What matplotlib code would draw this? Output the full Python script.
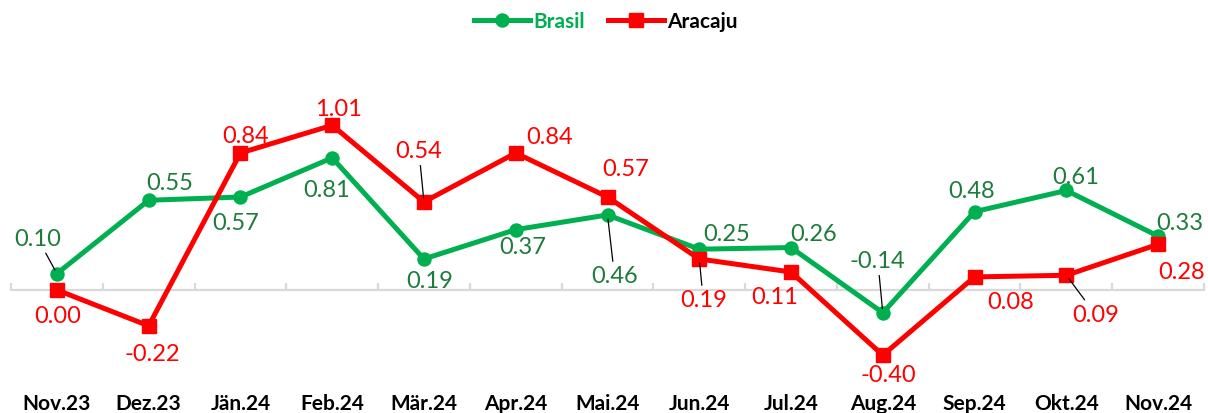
import numpy as np
import matplotlib
matplotlib.use('Agg')
import matplotlib.pyplot as plt
import matplotlib.transforms as mtransforms
from matplotlib.lines import Line2D

plt.rcParams['font.family'] = ['Lato', 'DejaVu Sans']

meses = ['Nov.23', 'Dez.23', 'Jän.24', 'Feb.24', 'Mär.24', 'Apr.24', 'Mai.24',
         'Jun.24', 'Jul.24', 'Aug.24', 'Sep.24', 'Okt.24', 'Nov.24']
brasil = [0.10, 0.55, 0.57, 0.81, 0.19, 0.37, 0.46, 0.25, 0.26, -0.14, 0.48, 0.61, 0.33]
aracaju = [0.00, -0.22, 0.84, 1.01, 0.54, 0.84, 0.57, 0.19, 0.11, -0.40, 0.08, 0.09, 0.28]

# label offsets in pixels (dx, dy) and which labels get a leader line
off_br = [(-19, 35), (21, 18), (-5, -25), (-6, -32), (6, -22), (7, -17), (7, -61),
          (27, 16), (23, 14), (-5, 52), (-3, 21), (9, 14), (22, 14)]
lead_br = [1, 0, 0, 0, 0, 0, 1, 0, 0, 1, 0, 0, 0]
off_ar = [(1, -26), (4, -28), (5, 17), (6, 17), (-5, 51), (34, 16), (18, 29),
          (4, -41), (-16, -24), (6, -19), (36, -25), (29, -39), (23, -27)]
lead_ar = [0, 0, 0, 0, 1, 0, 0, 1, 0, 0, 0, 1, 0]

verde = '#00B050'
verde_txt = '#1E7B3C'
vermelho = '#FF0000'
cinza = '#D9D9D9'

fig = plt.figure(figsize=(12.08, 4.14), dpi=100)
ax = fig.add_axes([11/1208, 0.1003, 1193/1208, 0.7089])

x = np.arange(len(meses))
ax.plot(x, brasil, color=verde, lw=3.6, marker='o', ms=9.4, zorder=3)
ax.plot(x, aracaju, color=vermelho, lw=3.6, marker='s', ms=10.5, zorder=4)

ax.set_xlim(-0.5, len(meses) - 0.5)
ax.set_ylim(-0.5, 1.3)

for s in ['top', 'left', 'right']:
    ax.spines[s].set_visible(False)
ax.spines['bottom'].set_position(('data', 0))
ax.spines['bottom'].set_color(cinza)
ax.spines['bottom'].set_linewidth(1.6)
ax.set_yticks([])
ax.set_xticks(np.arange(-0.5, len(meses), 1.0))
ax.set_xticklabels([])
ax.tick_params(axis='x', direction='in', length=5, width=1.6, color=cinza)


def rotulos(vals, offs, leads, cor):
    for i, v in enumerate(vals):
        props = None
        if leads[i]:
            props = dict(arrowstyle='-', color='black', lw=0.9, shrinkA=1, shrinkB=3)
        ax.annotate(f'{v:.2f}', (i, v), xytext=offs[i], textcoords='offset pixels',
                    ha='center', va='center', fontsize=17, color=cor,
                    arrowprops=props, zorder=6)


rotulos(brasil, off_br, lead_br, verde_txt)
rotulos(aracaju, off_ar, lead_ar, vermelho)

trans = mtransforms.blended_transform_factory(ax.transData, fig.transFigure)
for i, m in enumerate(meses):
    ax.text(i, 1 - 404/414, m, transform=trans, ha='center', va='center',
            fontsize=15, fontweight='bold', color='black')

handles = [Line2D([], [], color=verde, lw=3.6, marker='o', ms=9.4),
           Line2D([], [], color=vermelho, lw=3.6, marker='s', ms=10.5)]
leg = fig.legend(handles, ['Brasil', 'Aracaju'], loc='center', ncol=2,
                 bbox_to_anchor=(606/1208, 1 - 22/414), frameon=False,
                 prop=dict(size=15, weight='bold'), handlelength=2.7,
                 handletextpad=0.15, columnspacing=1.1)
leg.get_texts()[0].set_color(verde)
leg.get_texts()[1].set_color('black')

fig.savefig('out.png', dpi=100)
